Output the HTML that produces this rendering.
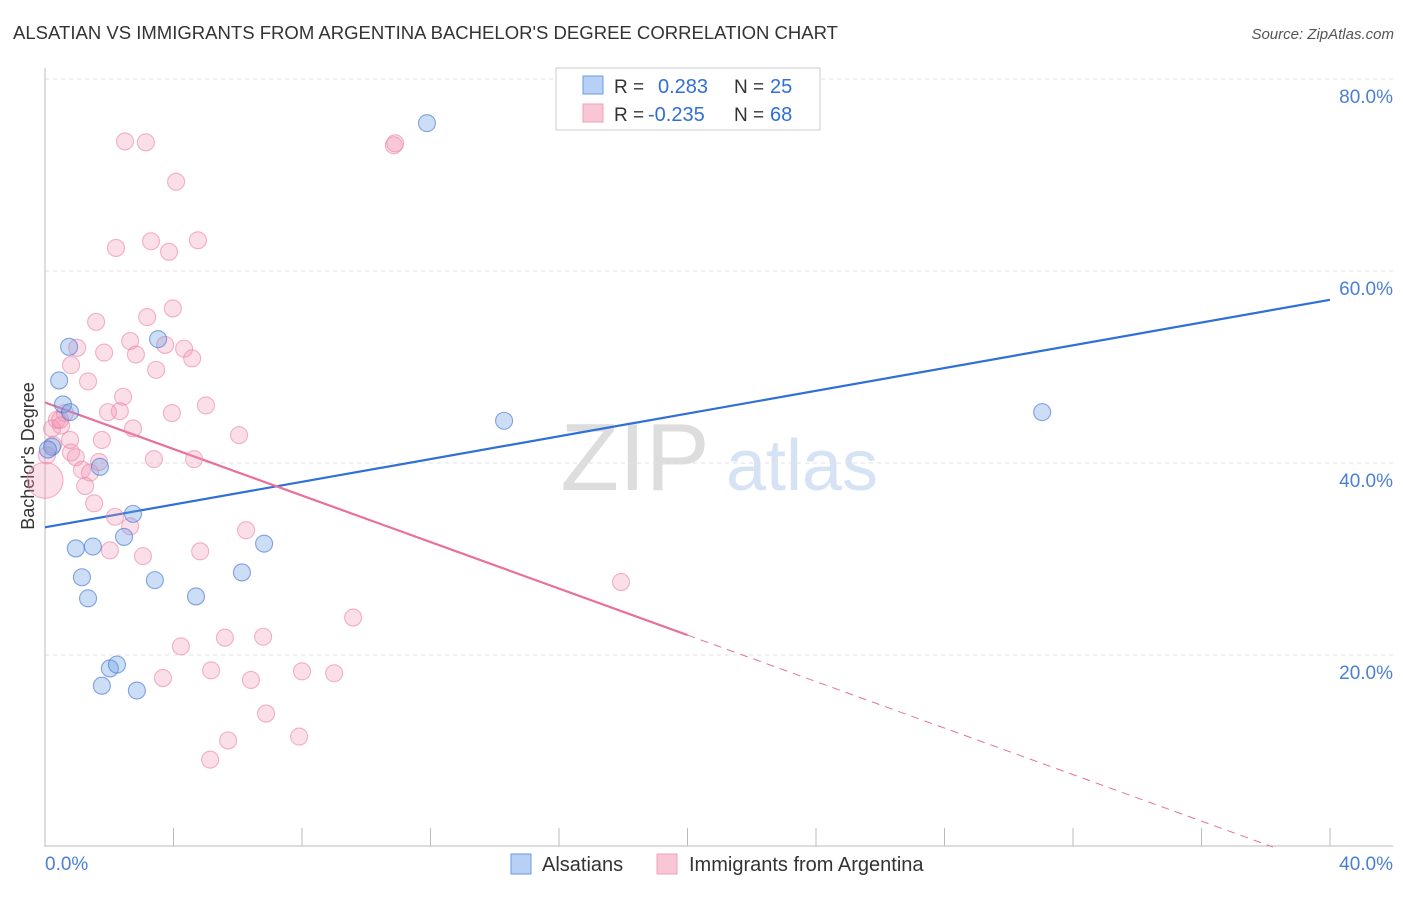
<!DOCTYPE html>
<html><head><meta charset="utf-8"><style>
body{margin:0;background:#fff;font-family:"Liberation Sans",sans-serif;}
svg text{font-family:"Liberation Sans",sans-serif;}
</style></head><body>
<svg id="chart" width="1406" height="892" xmlns="http://www.w3.org/2000/svg">
<text x="13" y="39" font-size="18" fill="#333" textLength="825" lengthAdjust="spacingAndGlyphs">ALSATIAN VS IMMIGRANTS FROM ARGENTINA BACHELOR'S DEGREE CORRELATION CHART</text>
<text x="1394" y="39" font-size="15" fill="#555" text-anchor="end" font-style="italic">Source: ZipAtlas.com</text>
<text x="635" y="490" font-size="96" fill="#ddd" font-family="Liberation Serif" text-anchor="middle">ZIP</text>
<text x="802" y="490" font-size="72" fill="#d6e3f5" text-anchor="middle">atlas</text>
<text transform="translate(34,456) rotate(-90)" font-size="18" fill="#333" text-anchor="middle">Bachelor's Degree</text>
<g id="grid"></g><g id="axes"></g><g id="lines"></g><g id="pts"></g>
<g>
<rect x="556" y="68" width="264" height="62" fill="#fff" stroke="#ccc"/>
<rect x="583" y="76" width="20" height="18" fill="#b7d0f5" stroke="#6b9be0"/>
<text x="614" y="93" font-size="19" fill="#333">R = </text><text x="658" y="93" font-size="20" fill="#2f6fd6">0.283</text>
<text x="734" y="93" font-size="19" fill="#333">N = </text><text x="770" y="93" font-size="20" fill="#2f6fd6">25</text>
<rect x="583" y="104" width="20" height="18" fill="#f8c6d5" stroke="#f0a0b8"/>
<text x="614" y="121" font-size="19" fill="#333">R = </text><text x="648" y="121" font-size="20" fill="#2f6fd6">-0.235</text>
<text x="734" y="121" font-size="19" fill="#333">N = </text><text x="770" y="121" font-size="20" fill="#2f6fd6">68</text>
</g>
<g>
<rect x="511" y="854" width="20" height="20" fill="#b7d0f5" stroke="#6b9be0"/>
<text x="542" y="871" font-size="20" fill="#333">Alsatians</text>
<rect x="657" y="854" width="20" height="20" fill="#f8c6d5" stroke="#f0a0b8"/>
<text x="689" y="871" font-size="20" fill="#333">Immigrants from Argentina</text>
</g>
</svg>
<script>
const yTicks=[20,40,60,80];
const xTickLabels=["0.0%","40.0%"];
const blueX=[11.89,0.75,3.52,0.44,0.56,0.78,0.22,1.71,2.74,2.46,0.96,1.49,6.82,1.15,3.42,6.13,1.34,4.70,2.02,2.24,1.77,2.86,14.29,31.04,0.09];
const blueY=[75.4,52.1,52.9,48.6,46.1,45.3,41.7,39.6,34.7,32.3,31.1,31.3,31.6,28.1,27.8,28.6,25.9,26.1,18.6,19.0,16.8,16.3,44.4,45.3,41.4];
const pinkX=[2.49,3.14,10.86,10.90,4.08,3.30,4.76,2.21,3.86,3.98,1.59,3.18,2.65,3.74,1.00,4.33,1.84,2.83,4.58,0.81,3.46,1.34,2.43,5.01,2.33,1.96,3.95,0.62,0.37,0.50,0.22,2.74,6.04,1.77,0.25,0.81,0.96,3.39,4.64,1.68,1.15,1.40,1.25,1.53,2.18,2.65,6.26,2.02,3.05,4.83,17.93,9.59,4.23,5.60,6.79,5.17,8.00,9.00,3.67,6.41,6.88,5.70,7.91,5.14,0.0,0.06,0.47,0.78];
const pinkY=[73.5,73.4,73.1,73.3,69.3,63.1,63.2,62.4,62.0,56.1,54.7,55.2,52.7,52.3,52.0,51.9,51.5,51.3,50.9,50.2,49.7,48.5,46.9,46.0,45.4,45.3,45.2,45.2,44.5,43.9,43.6,43.6,42.9,42.4,41.9,41.1,40.6,40.4,40.4,40.1,39.3,39.0,37.6,35.8,34.4,33.4,33.0,30.9,30.3,30.8,27.6,23.9,20.9,21.8,21.9,18.4,18.3,18.1,17.6,17.4,13.9,11.1,11.5,9.1,38.2,40.8,44.5,42.4];
const pinkBig=[64];
const blueTrend=[33.3,57.0];
const pinkTrend=[46.3,-2.15];
const pinkSolidEnd=20;
const NS="http://www.w3.org/2000/svg";
const X=v=>45+v/40*1285, Y=v=>847-v/20*192;
function mk(p,t,a){const e=document.createElementNS(NS,t);for(const k in a)e.setAttribute(k,a[k]);document.getElementById(p).appendChild(e);return e;}
yTicks.forEach(t=>{
 const g=mk('grid','line',{x1:45,x2:1393,y1:Y(t),y2:Y(t),stroke:'#e2e2e2','stroke-dasharray':'4,4'});
 
 
 const l=mk('grid','text',{x:1393,y:Y(t)+24,'font-size':19,fill:'#4a7fd6','text-anchor':'end'});l.textContent=t.toFixed(1)+'%';
 
 
});
const ya=mk('axes','line',{x1:45,x2:45,y1:68,y2:847,stroke:'#bbb'});


const xa=mk('axes','line',{x1:45,x2:1393,y1:846,y2:846,stroke:'#bbb'});


for(let i=0;i<=40;i+=4){const t=mk('axes','line',{x1:X(i),x2:X(i),y1:828,y2:846,stroke:'#bbb'});
 
 }
const x0=mk('axes','text',{x:45,y:870,'font-size':19,fill:'#4a7fd6'});x0.textContent=xTickLabels[0];


const x1=mk('axes','text',{x:1393,y:870,'font-size':19,fill:'#4a7fd6','text-anchor':'end'});x1.textContent=xTickLabels[1];


pinkX.forEach((v,i)=>{const c=mk('pts','circle',{cx:X(v),cy:Y(pinkY[i]),r:pinkBig.includes(i)?18:8.5,fill:'rgba(242,150,180,0.3)',stroke:'rgba(235,130,165,0.6)','stroke-width':1.1});
 
 });
blueX.forEach((v,i)=>{const c=mk('pts','circle',{cx:X(v),cy:Y(blueY[i]),r:8.5,fill:'rgba(110,160,230,0.35)',stroke:'rgba(70,120,210,0.65)','stroke-width':1.1});
 
 });
const bl=mk('lines','line',{x1:X(0),y1:Y(blueTrend[0]),x2:X(40),y2:Y(blueTrend[1]),stroke:'#2f6fd6','stroke-width':2.2});


const py=x=>pinkTrend[0]+(pinkTrend[1]-pinkTrend[0])*x/40;
const pl=mk('lines','line',{x1:X(0),y1:Y(py(0)),x2:X(pinkSolidEnd),y2:Y(py(pinkSolidEnd)),stroke:'#e8709a','stroke-width':2.2});


const xe=40*pinkTrend[0]/(pinkTrend[0]-pinkTrend[1]);
const pd=mk('lines','line',{x1:X(pinkSolidEnd),y1:Y(py(pinkSolidEnd)),x2:X(xe),y2:Y(0),stroke:'#e8709a','stroke-width':1,'stroke-dasharray':'8,6'});


</script>
</body></html>
